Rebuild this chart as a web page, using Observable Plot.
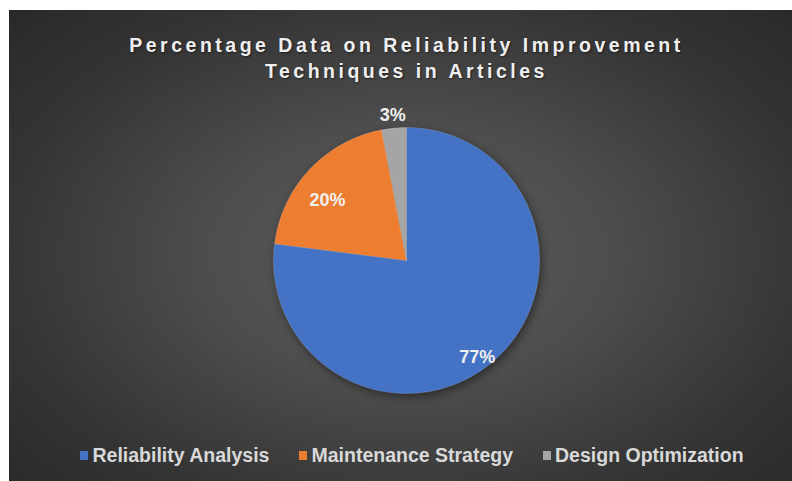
<!DOCTYPE html>
<html>
<head>
<meta charset="utf-8">
<script src="https://cdn.jsdelivr.net/npm/d3@7"></script>
<script src="https://cdn.jsdelivr.net/npm/@observablehq/plot@0.6"></script>
<style>
  html, body { margin: 0; padding: 0; background: #ffffff; }
  body { width: 792px; height: 481px; position: relative; overflow: hidden; font-family: "Liberation Sans", Arial, sans-serif; }
  #panel {
    position: absolute; left: 9px; top: 10px; width: 783px; height: 471px; overflow: hidden;
    background: radial-gradient(ellipse 75% 80% at 51% 52%, #5c5c5c 0%, #4d4d4d 35%, #343434 70%, #262626 100%);
  }
  #title {
    position: absolute; left: 0; top: 22px; width: 783px; text-align: center;
    color: #efefef; font-weight: bold; font-size: 19.5px; line-height: 26px; letter-spacing: 3.5px;
    text-shadow: 1px 1px 2px rgba(0,0,0,0.5);
    padding-left: 12px; box-sizing: border-box;
  }
  #chart { position: absolute; left: 0; top: 75px; }
  #chart svg g[aria-label="line"] { filter: drop-shadow(2px 3px 4px rgba(0,0,0,0.45)); }
  #legend {
    position: absolute; left: 0; top: 433px; width: 783px; display: flex; justify-content: center; align-items: center;
    color: #d9d9d9; font-weight: bold; font-size: 19.5px; line-height: 24px; padding-left: 23px; box-sizing: border-box;
  }
  .item { display: flex; align-items: center; margin: 0 15px; }
  .sw { width: 8px; height: 9px; margin-right: 4px; }
</style>
</head>
<body>
<div id="panel">
  <div id="title"></div>
  <div id="chart"></div>
  <div id="legend"></div>
</div>
<script>
// ---- data ----
const titleLines = ["Percentage Data on Reliability Improvement", "Techniques in Articles"];
const categories = ["Reliability Analysis", "Maintenance Strategy", "Design Optimization"];
const percents = [77, 20, 3];
const labels = ["77%", "20%", "3%"];
const colors = ["#4472C4", "#ED7D31", "#A5A5A5"];

// ---- layout (styles, not data) ----
const W = 783, H = 345;
const cx = 397, cy = 175, R = 133;      // pie centre and radius in svg pixels
const labelRadius = [0.9, 0.745, 1.1];  // label distance as fraction of radius
const labelShift = [-0.09, 0.105, 0];   // angular shift of label (radians) toward slice start

// Build slice outlines from the data
const total = d3.sum(percents);
const pts = [];
const labelData = [];
let a = 0;
categories.forEach((cat, i) => {
  const a0 = a, a1 = a + percents[i] / total * 2 * Math.PI;
  pts.push({cat, x: 0, y: 0});
  const n = Math.max(4, Math.ceil((a1 - a0) / (Math.PI / 360)));
  for (let k = 0; k <= n; k++) {
    const t = a0 + (a1 - a0) * k / n;
    pts.push({cat, x: Math.sin(t), y: Math.cos(t)});
  }
  pts.push({cat, x: 0, y: 0});
  const m = (a0 + a1) / 2 - labelShift[i];
  labelData.push({text: labels[i], x: labelRadius[i] * Math.sin(m), y: labelRadius[i] * Math.cos(m)});
  a = a1;
});

document.getElementById("title").innerHTML = titleLines.map(s => `<div>${s}</div>`).join("");

const plot = Plot.plot({
  width: W, height: H,
  marginLeft: 0, marginRight: 0, marginTop: 0, marginBottom: 0,
  x: {domain: [-cx / R, (W - cx) / R], axis: null},
  y: {domain: [-(H - cy) / R, cy / R], axis: null},
  color: {domain: categories, range: colors},
  style: {background: "transparent", fontFamily: "Liberation Sans, Arial, sans-serif", overflow: "visible"},
  marks: [
    Plot.line(pts, {x: "x", y: "y", z: "cat", fill: "cat", stroke: "#ffffff", strokeOpacity: 0.25, strokeWidth: 0.6, curve: "linear"}),
    Plot.text(labelData, {x: "x", y: "y", text: "text", fill: "#f0f0f0", fontSize: 18, fontWeight: "bold"})
  ]
});
document.getElementById("chart").appendChild(plot);

const legend = document.getElementById("legend");
categories.forEach((c, i) => {
  const it = document.createElement("div");
  it.className = "item";
  it.innerHTML = `<span class="sw" style="background:${colors[i]}"></span><span>${c}</span>`;
  legend.appendChild(it);
});
</script>
</body>
</html>
